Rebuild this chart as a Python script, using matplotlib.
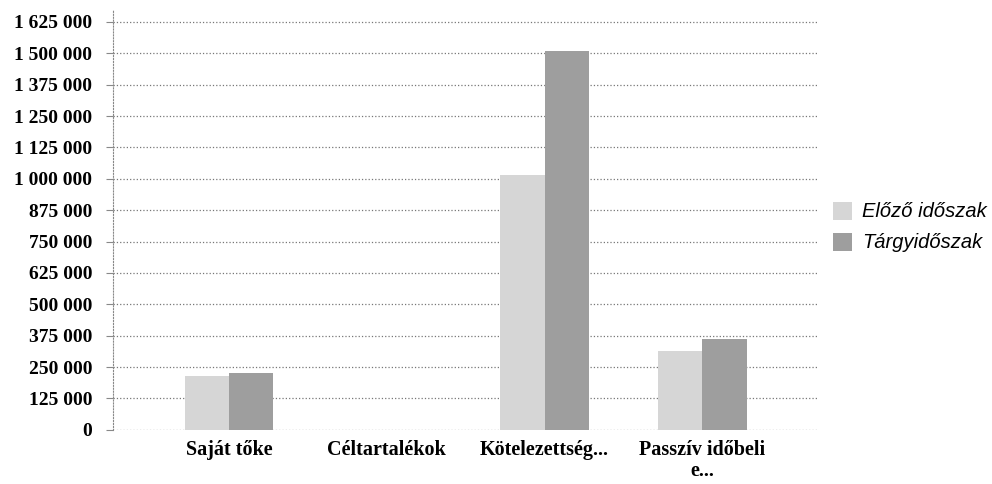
import numpy as np
import matplotlib.pyplot as plt

categories = ['Saját tőke', 'Céltartalékok', 'Kötelezettség...', 'Passzív időbeli\ne...']
elozo = [215000, 0, 1015000, 314000]
targy = [225000, 0, 1509000, 362000]
series_names = ['Előző időszak', 'Tárgyidőszak']
yticks = np.arange(0, 1625001, 125000)

fig = plt.figure(figsize=(9.92, 4.84), dpi=100)
ax = fig.add_axes([0.114, 0.112, 0.711, 0.867])

x = np.arange(len(categories))
w = 0.28
ax.bar(x - w / 2, elozo, w, color='#d6d6d6', label=series_names[0], zorder=3)
ax.bar(x + w / 2, targy, w, color='#9e9e9e', label=series_names[1], zorder=3)

ax.set_xlim(-0.735, 3.735)
ax.set_ylim(0, 1672000)
ax.set_yticks(yticks)
ax.set_yticklabels([f'{v:,.0f}'.replace(',', ' ') for v in yticks],
                   fontfamily='Liberation Serif', fontweight='bold', fontsize=14)
ax.set_xticks(x)
ax.set_xticklabels(categories, fontfamily='Liberation Serif', fontweight='bold',
                   fontsize=14.5, linespacing=1.1)
ax.tick_params(axis='x', length=0, pad=7)
ax.tick_params(axis='y', length=5, color='#888888', pad=10)

ax.grid(axis='y', linestyle=':', color='#777777', linewidth=0.9, zorder=0)
for s in ['top', 'right', 'bottom']:
    ax.spines[s].set_visible(False)
ax.spines['left'].set_color('#888888')
ax.spines['left'].set_linestyle(':')

ax.legend(loc='center left', bbox_to_anchor=(833 / 992, 0.531),
          bbox_transform=fig.transFigure, frameon=False,
          borderpad=0, borderaxespad=0,
          prop={'family': 'Liberation Sans', 'style': 'italic', 'size': 14.5},
          handlelength=0.95, handleheight=1.0, handletextpad=0.5, labelspacing=0.55)

fig.savefig('out.png', dpi=100)
